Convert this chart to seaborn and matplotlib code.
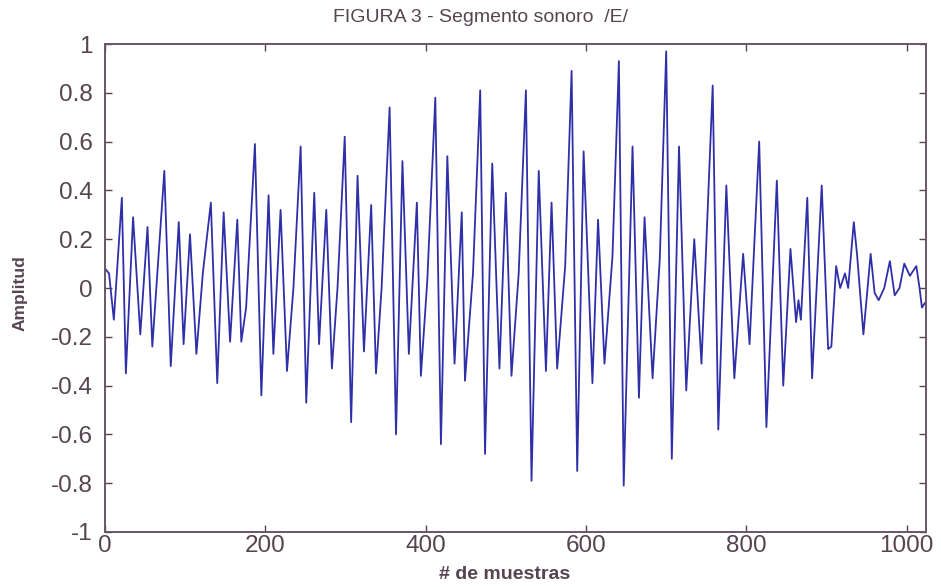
import numpy as np
import pandas as pd
import matplotlib
matplotlib.use("Agg")
import matplotlib.pyplot as plt
import seaborn as sns

# --- values (sample index, amplitude) ---
muestra = [0, 5, 11, 21, 26, 35, 44, 53, 59, 74, 82, 92, 98, 106, 114, 122,
           132, 140, 148, 156, 165, 170, 176, 187, 195, 204, 210, 219, 227, 235,
           244, 251, 261, 267, 276, 283, 290, 299, 307, 315, 323, 332, 338, 345,
           355, 363, 371, 379, 389, 394, 402, 412, 419, 427, 436, 445, 449, 459,
           468, 474, 483, 492, 500, 507, 516, 525, 532, 541, 550, 557, 564, 574,
           582, 589, 597, 608, 615, 623, 633, 641, 647, 658, 666, 673, 683, 692,
           700, 707, 716, 725, 735, 744, 758, 765, 775, 785, 796, 804, 816, 825,
           838, 846, 855, 862, 865, 868, 876, 882, 894, 902, 906, 912, 917, 923,
           927, 934, 938, 946, 955, 960, 965, 972, 979, 985, 991, 997, 1004, 1012,
           1016, 1019, 1023]
amplitud = [0.08, 0.06, -0.13, 0.37, -0.35, 0.29, -0.19, 0.25, -0.24, 0.48, -0.32, 0.27, -0.23, 0.22, -0.27, 0.06,
            0.35, -0.39, 0.31, -0.22, 0.28, -0.22, -0.08, 0.59, -0.44, 0.38, -0.27, 0.32, -0.34, 0.0,
            0.58, -0.47, 0.39, -0.23, 0.32, -0.33, 0.0, 0.62, -0.55, 0.46, -0.26, 0.34, -0.35, 0.0,
            0.74, -0.60, 0.52, -0.27, 0.35, -0.36, 0.03, 0.78, -0.64, 0.54, -0.31, 0.31, -0.38, 0.06,
            0.81, -0.68, 0.51, -0.33, 0.39, -0.36, 0.06, 0.81, -0.79, 0.48, -0.34, 0.35, -0.33, 0.09,
            0.89, -0.75, 0.56, -0.39, 0.28, -0.31, 0.13, 0.93, -0.81, 0.58, -0.45, 0.29, -0.37, 0.12,
            0.97, -0.70, 0.58, -0.42, 0.20, -0.31, 0.83, -0.58, 0.42, -0.37, 0.14, -0.23, 0.60, -0.57,
            0.44, -0.40, 0.16, -0.14, -0.05, -0.13, 0.37, -0.37, 0.42, -0.25, -0.24, 0.09, 0.0, 0.06,
            0.0, 0.27, 0.14, -0.19, 0.14, -0.02, -0.05, 0.0, 0.11, -0.03, 0.0, 0.10, 0.05, 0.09,
            0.0, -0.08, -0.06]

xticks = [0, 200, 400, 600, 800, 1000]
yticks = [-1, -0.8, -0.6, -0.4, -0.2, 0, 0.2, 0.4, 0.6, 0.8, 1]
ytick_labels = ["-1", "-0.8", "-0.6", "-0.4", "-0.2", "0", "0.2", "0.4", "0.6", "0.8", "1"]

df = pd.DataFrame({"muestra": muestra, "amplitud": amplitud})

sns.set_style("ticks")
plt.rcParams['font.family'] = ['Liberation Sans', 'DejaVu Sans']

ink = '#57444f'
fig = plt.figure(figsize=(9.41, 5.87), dpi=100)
ax = fig.add_axes([0.1116, 0.0937, 0.8724, 0.8313])

sns.lineplot(data=df, x="muestra", y="amplitud", estimator=None, sort=False,
             color='#2f2fa8', linewidth=1.3, ax=ax)

ax.set_xlim(0, 1024)
ax.set_ylim(-1, 1)
ax.set_xticks(xticks)
ax.set_xticklabels([str(t) for t in xticks])
ax.set_yticks(yticks)
ax.set_yticklabels(ytick_labels)
ax.tick_params(direction='in', length=5, width=1.0, colors=ink, labelsize=17.5,
               top=True, right=True)
ax.tick_params(axis='y', pad=9)
ax.tick_params(axis='x', pad=2)
for sp in ax.spines.values():
    sp.set_visible(True)
    sp.set_color('#6a5566')
    sp.set_linewidth(1.4)

# title sits a little left of the axes centre in the original
fig.text(480 / 941, 1 - 18 / 587, "FIGURA 3 - Segmento sonoro  /E/", fontsize=14,
         color=ink, ha='center', va='center')

ax.set_xlabel("# de muestras", fontsize=14, color=ink, fontweight='bold')
ax.xaxis.set_label_coords((505 - 105) / 821, -43 / 488)
ax.xaxis.label.set_va('center')
ax.set_ylabel("Amplitud", fontsize=12.5, color=ink, fontweight='bold')
ax.yaxis.set_label_coords((20 - 105) / 821, 0.49)
ax.yaxis.label.set_va('center')

fig.savefig("out.png", dpi=100)
